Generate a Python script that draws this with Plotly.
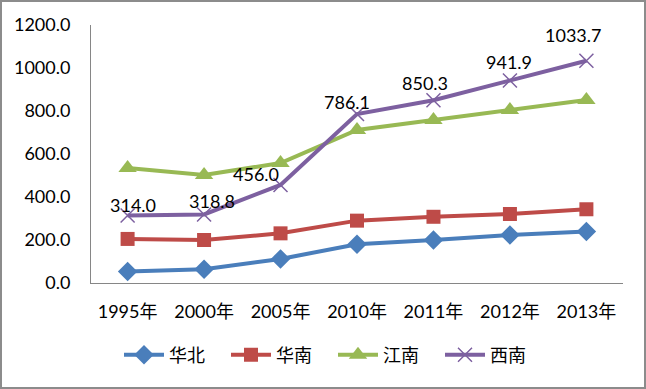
import plotly.graph_objects as go

categories = ["1995年", "2000年", "2005年", "2010年", "2011年", "2012年", "2013年"]
huabei = [53, 64, 112, 180, 200, 223, 239]
huanan = [205, 200, 231, 290, 308, 321, 343]
jiangnan = [535, 502, 558, 712, 758, 805, 851]
xinan = [314.0, 318.8, 456.0, 786.1, 850.3, 941.9, 1033.7]
y_ticks = [0, 200, 400, 600, 800, 1000, 1200]

FONT = "Lato, 'Noto Sans CJK SC', sans-serif"

series = [
    ("华北", huabei, "#4A7EBB", "diamond", 15, None),
    ("华南", huanan, "#BE4B48", "square", 14, None),
    ("江南", jiangnan, "#98B954", "triangle-up", 16, None),
    ("西南", xinan, "#7D60A0", "x-thin-open", 14, 1.5),
]

fig = go.Figure()
for name, vals, color, sym, size, mlw in series:
    marker = dict(symbol=sym, size=size, color=color)
    if mlw:
        marker["line"] = dict(width=mlw, color=color)
    fig.add_trace(go.Scatter(
        x=categories, y=vals, name=name, mode="lines+markers",
        line=dict(color=color, width=4), marker=marker,
    ))

# data label offsets (pixels) for 西南
label_shift = [(5, 10), (8, 13), (-25, 11), (-10, 12), (-8, 17), (-1, 18), (-13, 26)]
for c, v, (dx, dy) in zip(categories, xinan, label_shift):
    fig.add_annotation(x=c, y=v, text=f"{v:.1f}", showarrow=False,
                       xshift=dx, yshift=dy, yanchor="middle",
                       font=dict(family=FONT, size=18, color="#000000"))

fig.add_shape(type="rect", xref="paper", yref="paper",
              x0=(1 - 91) / 532, x1=(645 - 91) / 532,
              y0=(283 - 388) / 258, y1=(283 - 1) / 258,
              line=dict(color="#8C8C8C", width=2), fillcolor="rgba(0,0,0,0)")

fig.update_layout(
    width=646, height=389,
    margin=dict(l=91, r=23, t=25, b=106, autoexpand=False),
    paper_bgcolor="white", plot_bgcolor="white",
    font=dict(family=FONT, size=18, color="#000000"),
    showlegend=True,
    legend=dict(orientation="h", xref="container", x=0.5 + 10 / 646, xanchor="center",
                yref="container", y=(389 - 355) / 389, yanchor="middle",
                font=dict(family=FONT, size=18), itemwidth=40,
                entrywidth=52, tracegroupgap=0),
    xaxis=dict(type="category", showgrid=False, showline=True, linecolor="#868686",
               linewidth=1, ticks="", tickfont=dict(size=18), ticklabelstandoff=12),
    yaxis=dict(range=[0, 1200], tickvals=y_ticks, tickformat=".1f", showgrid=False,
               showline=True, linecolor="#868686", linewidth=1, ticks="",
               zeroline=False, tickfont=dict(size=18), ticklabelstandoff=16),
)

fig.write_html("out.html", config={"displayModeBar": False},
               post_script="document.body.style.margin='0';document.body.style.overflow='hidden';")
